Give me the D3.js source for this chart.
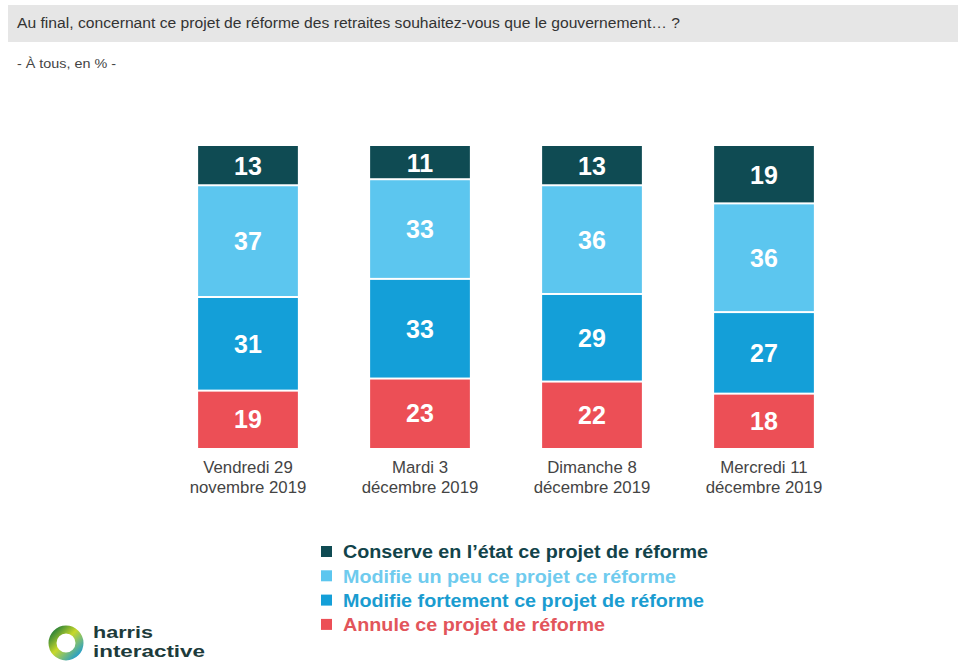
<!DOCTYPE html>
<html><head><meta charset="utf-8">
<script src="https://cdn.jsdelivr.net/npm/d3@7"></script>
<style>body{margin:0;background:#fff}svg{display:block}</style>
</head><body>
<svg id="c" width="958" height="661"></svg>
<script>
const categories = [["Vendredi 29","novembre 2019"],["Mardi 3","décembre 2019"],["Dimanche 8","décembre 2019"],["Mercredi 11","décembre 2019"]];
const seriesNames = ["Conserve en l’état ce projet de réforme","Modifie un peu ce projet ce réforme","Modifie fortement ce projet de réforme","Annule ce projet de réforme"];
const conserve = [13,11,13,19];
const modifiePeu = [37,33,36,36];
const modifieFort = [31,33,29,27];
const annule = [19,23,22,18];
const colors = ["#0f4b53","#5cc6ef","#149fd8","#ec4f56"];
const textColors = ["#12434a","#6fcbee","#1a9cd0","#e2555b"];
const legendWidths = [365,333,361,262];

const series = [conserve, modifiePeu, modifieFort, annule];
const svg = d3.select("#c");
const font = "'Liberation Sans', Arial, sans-serif";

// title band
svg.append("rect").attr("x",8).attr("y",5).attr("width",950).attr("height",37).attr("fill","#e6e6e6");
svg.append("text").attr("x",17).attr("y",28).attr("font-family",font).attr("font-size",14).attr("fill","#333")
  .attr("textLength",663).attr("lengthAdjust","spacingAndGlyphs")
  .text("Au final, concernant ce projet de réforme des retraites souhaitez-vous que le gouvernement… ?");
svg.append("text").attr("x",17).attr("y",68).attr("font-family",font).attr("font-size",12).attr("fill","#444")
  .attr("textLength",99).attr("lengthAdjust","spacingAndGlyphs")
  .text("- À tous, en % -");

const x = d3.scaleBand().domain(d3.range(categories.length)).range([162,850]).paddingInner(0.42).paddingOuter(0.21);
const y = d3.scaleLinear().domain([0,100]).range([448,146]);

categories.forEach((cat,i)=>{
  let cum = 100;
  series.forEach((s,k)=>{
    const v = s[i];
    const top = cum, bot = cum - v;
    cum = bot;
    const y0 = y(top), y1 = y(bot);
    const gapTop = k===0?0:1, gapBot = k===series.length-1?0:1;
    svg.append("rect").attr("x",x(i)).attr("width",x.bandwidth())
      .attr("y",y0+gapTop).attr("height",y1-y0-gapTop-gapBot).attr("fill",colors[k]);
    svg.append("text").attr("x",x(i)+x.bandwidth()/2).attr("y",(y0+y1)/2)
      .attr("dy","0.36em").attr("text-anchor","middle").attr("font-family",font)
      .attr("font-weight","bold").attr("font-size",25).attr("fill","#fff").text(v);
  });
  cat.forEach((line,j)=>{
    svg.append("text").attr("x",x(i)+x.bandwidth()/2).attr("y",473+j*20)
      .attr("text-anchor","middle").attr("font-family",font).attr("font-size",16.8).attr("fill","#444").text(line);
  });
});

// legend
seriesNames.forEach((n,k)=>{
  const yy = 552 + k*24.3;
  svg.append("rect").attr("x",321).attr("y",yy-6).attr("width",11).attr("height",11).attr("fill",colors[k]);
  svg.append("text").attr("x",343).attr("y",yy).attr("dy","0.36em").attr("font-family",font)
    .attr("font-weight","bold").attr("font-size",18).attr("fill",textColors[k])
    .attr("textLength",legendWidths[k]).attr("lengthAdjust","spacingAndGlyphs").text(n);
});

// logo
const defs = svg.append("defs");
const g = defs.append("linearGradient").attr("id","lg").attr("x1","0").attr("y1","0").attr("x2","1").attr("y2","1");
g.append("stop").attr("offset","0%").attr("stop-color","#1e7a3a");
g.append("stop").attr("offset","45%").attr("stop-color","#c8d82a");
g.append("stop").attr("offset","100%").attr("stop-color","#1a9ad6");
svg.append("circle").attr("cx",66).attr("cy",643).attr("r",13.5).attr("fill","none").attr("stroke","url(#lg)").attr("stroke-width",8);
svg.append("text").attr("x",93).attr("y",638).attr("font-family",font).attr("font-weight","bold").attr("font-size",17).attr("fill","#1d3b3b")
  .attr("textLength",60).attr("lengthAdjust","spacingAndGlyphs").text("harris");
svg.append("text").attr("x",93).attr("y",657).attr("font-family",font).attr("font-weight","bold").attr("font-size",16).attr("fill","#1d3b3b")
  .attr("textLength",112).attr("lengthAdjust","spacingAndGlyphs").text("interactive");
</script>
</body></html>
